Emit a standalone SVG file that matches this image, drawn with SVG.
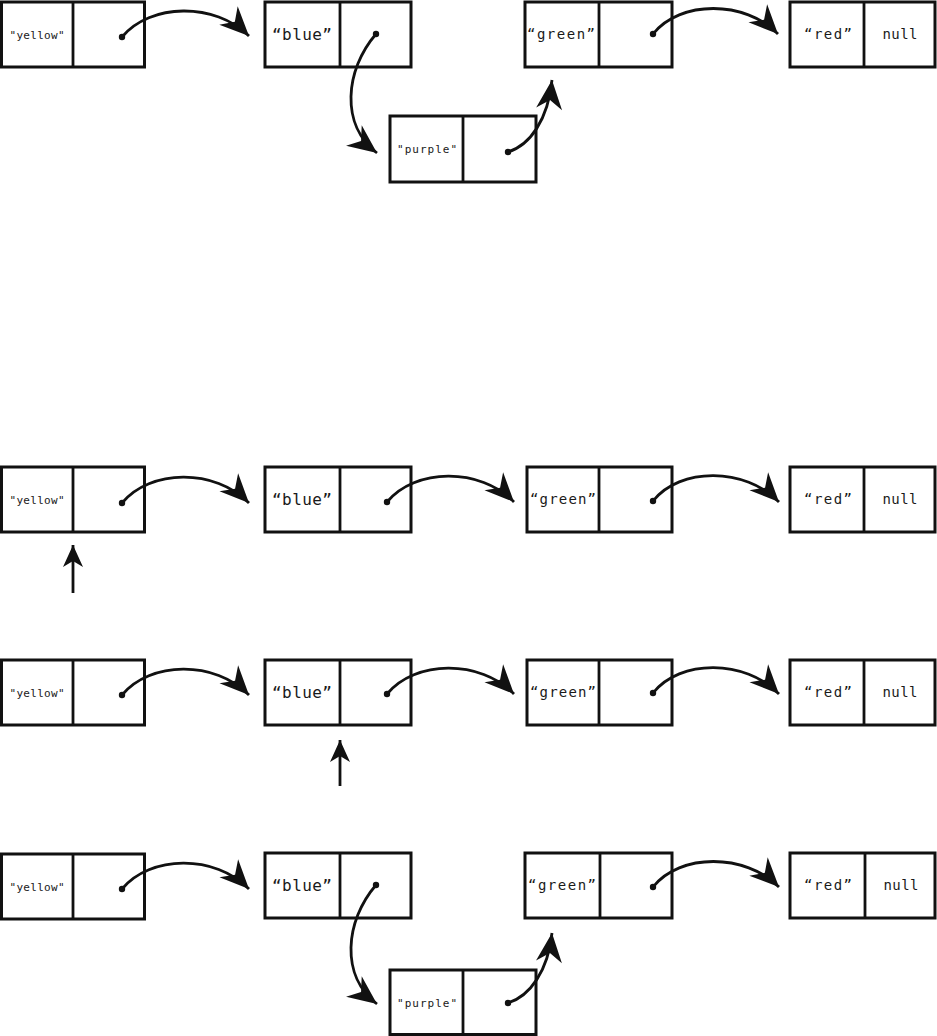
<svg xmlns="http://www.w3.org/2000/svg" width="937" height="1036" viewBox="0 0 937 1036">
<style>
.box{fill:#fff;stroke:#111;stroke-width:3}
.div{stroke:#111;stroke-width:2.8}
.t{font-family:"DejaVu Sans Mono","Liberation Mono",monospace;fill:#1a1a1a;text-anchor:middle}
.s{font-size:11px}
.m{font-size:14px}
.l{font-size:16px}
.c{fill:none;stroke:#111;stroke-width:2.8}
.dot{fill:#111}
</style>
<defs>
<marker id="ah" markerUnits="userSpaceOnUse" viewBox="-30 -14 32 28" refX="0" refY="0" markerWidth="32" markerHeight="28" orient="auto">
<path d="M0,0 L-29,-13 L-20,0 L-29,13 Z" fill="#111"/>
</marker>
<marker id="ahs" markerUnits="userSpaceOnUse" viewBox="-24 -11 26 22" refX="0" refY="0" markerWidth="26" markerHeight="22" orient="auto">
<path d="M0,0 L-22,-10 L-16,0 L-22,10 Z" fill="#111"/>
</marker>
</defs>

<!-- Row 1 -->
<g id="r1-yellow"><rect class="box" x="1.5" y="2" width="143" height="65"/><line class="div" x1="73" y1="2" x2="73" y2="67"/><text class="t s" x="37" y="39" textLength="55">"yellow"</text></g>
<g id="r1-blue"><rect class="box" x="265" y="2" width="146" height="65"/><line class="div" x1="340" y1="2" x2="340" y2="67"/><text class="t l" x="302" y="40" textLength="60">“blue”</text></g>
<g id="r1-green"><rect class="box" x="525" y="2" width="147" height="65"/><line class="div" x1="599" y1="2" x2="599" y2="67"/><text class="t m" x="561" y="39" textLength="68">“green”</text></g>
<g id="r1-red"><rect class="box" x="790" y="2" width="145" height="65"/><line class="div" x1="864" y1="2" x2="864" y2="67"/><text class="t m" x="828" y="39" textLength="48">“red”</text><text class="t m" x="900" y="39" textLength="35">null</text></g>
<g id="r1-purple"><rect class="box" x="390" y="116" width="146" height="66"/><line class="div" x1="463" y1="116" x2="463" y2="182"/><text class="t s" x="427" y="153" textLength="60">"purple"</text></g>

<!-- Row 2 -->
<g id="r2-yellow"><rect class="box" x="1.5" y="467" width="143" height="65"/><line class="div" x1="73" y1="467" x2="73" y2="532"/><text class="t s" x="37" y="504" textLength="55">"yellow"</text></g>
<g id="r2-blue"><rect class="box" x="265" y="467" width="146" height="65"/><line class="div" x1="340" y1="467" x2="340" y2="532"/><text class="t l" x="302" y="505" textLength="60">“blue”</text></g>
<g id="r2-green"><rect class="box" x="527" y="467" width="145" height="65"/><line class="div" x1="599" y1="467" x2="599" y2="532"/><text class="t m" x="563" y="504" textLength="66">“green”</text></g>
<g id="r2-red"><rect class="box" x="790" y="467" width="145" height="65"/><line class="div" x1="864" y1="467" x2="864" y2="532"/><text class="t m" x="828" y="504" textLength="48">“red”</text><text class="t m" x="900" y="504" textLength="35">null</text></g>

<!-- Row 3 -->
<g id="r3-yellow"><rect class="box" x="1.5" y="660" width="143" height="65"/><line class="div" x1="73" y1="660" x2="73" y2="725"/><text class="t s" x="37" y="697" textLength="55">"yellow"</text></g>
<g id="r3-blue"><rect class="box" x="265" y="660" width="146" height="65"/><line class="div" x1="340" y1="660" x2="340" y2="725"/><text class="t l" x="302" y="698" textLength="60">“blue”</text></g>
<g id="r3-green"><rect class="box" x="527" y="660" width="145" height="65"/><line class="div" x1="599" y1="660" x2="599" y2="725"/><text class="t m" x="563" y="697" textLength="66">“green”</text></g>
<g id="r3-red"><rect class="box" x="790" y="660" width="145" height="65"/><line class="div" x1="864" y1="660" x2="864" y2="725"/><text class="t m" x="828" y="697" textLength="48">“red”</text><text class="t m" x="900" y="697" textLength="35">null</text></g>

<!-- Row 4 -->
<g id="r4-yellow"><rect class="box" x="1.5" y="854" width="143" height="65"/><line class="div" x1="73" y1="854" x2="73" y2="919"/><text class="t s" x="37" y="891" textLength="55">"yellow"</text></g>
<g id="r4-blue"><rect class="box" x="265" y="853" width="146" height="65"/><line class="div" x1="340" y1="853" x2="340" y2="918"/><text class="t l" x="302" y="891" textLength="60">“blue”</text></g>
<g id="r4-green"><rect class="box" x="525" y="853" width="147" height="65"/><line class="div" x1="600" y1="853" x2="600" y2="918"/><text class="t m" x="562" y="890" textLength="68">“green”</text></g>
<g id="r4-red"><rect class="box" x="790" y="853" width="145" height="65"/><line class="div" x1="865" y1="853" x2="865" y2="918"/><text class="t m" x="828" y="890" textLength="48">“red”</text><text class="t m" x="901" y="890" textLength="35">null</text></g>
<g id="r4-purple"><rect class="box" x="390" y="970" width="146" height="64.5"/><line class="div" x1="463" y1="970" x2="463" y2="1035"/><text class="t s" x="427" y="1007" textLength="60">"purple"</text></g>

<g id="connectors">
<!-- row 1 -->
<path class="c" d="M122,37 C150,3 215,2 249,36" marker-end="url(#ah)"/>
<path class="c" d="M376,34 C345,70 340,125 377,153" marker-end="url(#ah)"/>
<path class="c" d="M508,152 C530,145 548,120 552,80" marker-end="url(#ah)"/>
<path class="c" d="M653,34 C680,0 745,0 778,34" marker-end="url(#ah)"/>
<circle class="dot" cx="122" cy="37" r="3.2"/><circle class="dot" cx="376" cy="34" r="3.2"/><circle class="dot" cx="508" cy="152" r="3.2"/><circle class="dot" cx="653" cy="34" r="3.2"/>
<!-- row 2 -->
<path class="c" d="M122,503 C150,469 215,468 249,503" marker-end="url(#ah)"/>
<path class="c" d="M387,502 C415,468 480,467 514,502" marker-end="url(#ah)"/>
<path class="c" d="M653,501 C680,467 745,467 779,502" marker-end="url(#ah)"/>
<circle class="dot" cx="122" cy="503" r="3.2"/><circle class="dot" cx="387" cy="502" r="3.2"/><circle class="dot" cx="653" cy="501" r="3.2"/>
<path class="c" d="M73,593 L73,545" marker-end="url(#ahs)"/>
<!-- row 3 -->
<path class="c" d="M122,695 C150,661 215,660 249,695" marker-end="url(#ah)"/>
<path class="c" d="M387,694 C415,660 480,659 514,694" marker-end="url(#ah)"/>
<path class="c" d="M653,693 C680,659 745,659 779,694" marker-end="url(#ah)"/>
<circle class="dot" cx="122" cy="695" r="3.2"/><circle class="dot" cx="387" cy="694" r="3.2"/><circle class="dot" cx="653" cy="693" r="3.2"/>
<path class="c" d="M340,786 L340,740" marker-end="url(#ahs)"/>
<!-- row 4 -->
<path class="c" d="M122,889 C150,855 215,854 249,889" marker-end="url(#ah)"/>
<path class="c" d="M376,885 C345,921 340,976 377,1004" marker-end="url(#ah)"/>
<path class="c" d="M508,1003 C530,996 548,971 552,933" marker-end="url(#ah)"/>
<path class="c" d="M653,887 C680,853 745,853 779,887" marker-end="url(#ah)"/>
<circle class="dot" cx="122" cy="889" r="3.2"/><circle class="dot" cx="376" cy="885" r="3.2"/><circle class="dot" cx="508" cy="1003" r="3.2"/><circle class="dot" cx="653" cy="887" r="3.2"/>
</g>
</svg>
